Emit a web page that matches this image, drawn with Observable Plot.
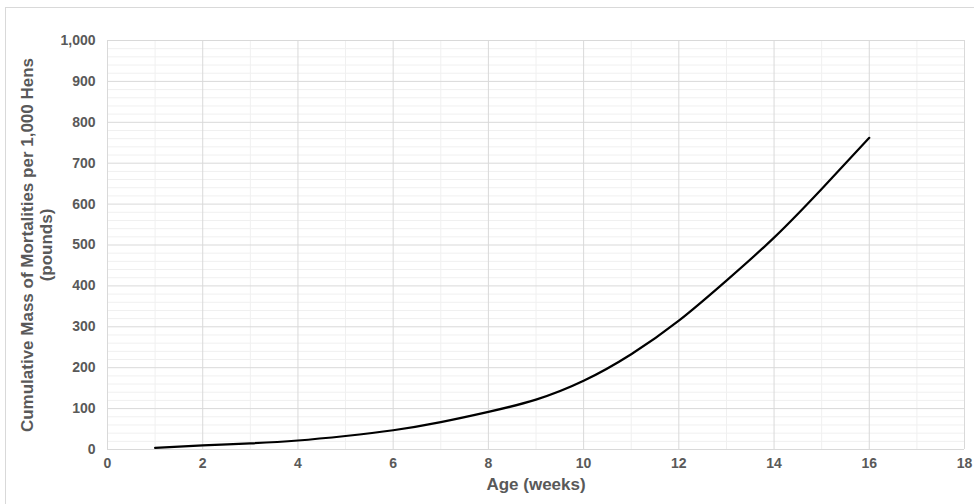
<!DOCTYPE html>
<html>
<head>
<meta charset="utf-8">
<script src="https://cdn.jsdelivr.net/npm/d3@7"></script>
<script src="https://cdn.jsdelivr.net/npm/@observablehq/plot@0.6"></script>
<style>
  html, body { margin: 0; padding: 0; background: #fff; }
  #wrap { position: relative; width: 974px; height: 504px; overflow: hidden; }
  #frame { position: absolute; left: 5px; top: 7px; width: 980px; height: 520px; border: 1px solid #d9d9d9; box-sizing: border-box; }
  #chart { position: absolute; left: 0; top: 0; }
</style>
</head>
<body>
<div id="wrap"><div id="frame"></div><div id="chart"></div></div>
<script>
const weeks = [1, 2, 3, 4, 5, 6, 7, 8, 9, 10, 11, 12, 13, 14, 15, 16];
const mass  = [4, 10, 15, 22, 33, 47, 67, 92, 122, 168, 233, 315, 413, 518, 637, 762];
const xTicks = [0, 2, 4, 6, 8, 10, 12, 14, 16, 18];
const yTicks = [0, 100, 200, 300, 400, 500, 600, 700, 800, 900, 1000];
const xTitle = "Age (weeks)";
const yTitle = "Cumulative Mass of Mortalities per 1,000 Hens\n(pounds)";

const xMinor = d3.range(0, 18.01, 1).filter(v => !xTicks.includes(v));
const yMinor = d3.range(0, 1000.01, 20).filter(v => !yTicks.includes(v));
const data = weeks.map((w, i) => ({week: w, mass: mass[i]}));

const chart = Plot.plot({
  width: 974,
  height: 504,
  marginLeft: 107,
  marginRight: 10,
  marginTop: 40,
  marginBottom: 55,
  style: "font-family: 'Liberation Sans', Arial, sans-serif; font-weight: bold; color: #595959; background: transparent; overflow: visible;",
  x: {domain: [0, 18]},
  y: {domain: [0, 1000]},
  marks: [
    Plot.ruleX(xMinor, {stroke: "#f0f0f0", strokeWidth: 1}),
    Plot.ruleY(yMinor, {stroke: "#f0f0f0", strokeWidth: 1}),
    Plot.ruleX(xTicks, {stroke: "#d9d9d9", strokeWidth: 1}),
    Plot.ruleY(yTicks, {stroke: "#d9d9d9", strokeWidth: 1}),
    Plot.axisX(xTicks, {tickSize: 0, tickPadding: 9, label: null, fontSize: 14, fontWeight: "bold", tickFormat: d => String(d)}),
    Plot.axisY(yTicks, {tickSize: 0, tickPadding: 12, label: null, fontSize: 14, fontWeight: "bold", tickFormat: d3.format(",")}),
    Plot.line(data, {x: "week", y: "mass", curve: "natural", stroke: "#000", strokeWidth: 2.2}),
    Plot.text([xTitle], {frameAnchor: "bottom", dy: 40, fontSize: 17, fontWeight: "bold", fill: "#595959"}),
    Plot.text([yTitle], {frameAnchor: "left", textAnchor: "middle", rotate: -90, dx: -71, fontSize: 17, fontWeight: "bold", lineHeight: 1.12, fill: "#595959"})
  ]
});
document.getElementById("chart").appendChild(chart);
</script>
</body>
</html>
